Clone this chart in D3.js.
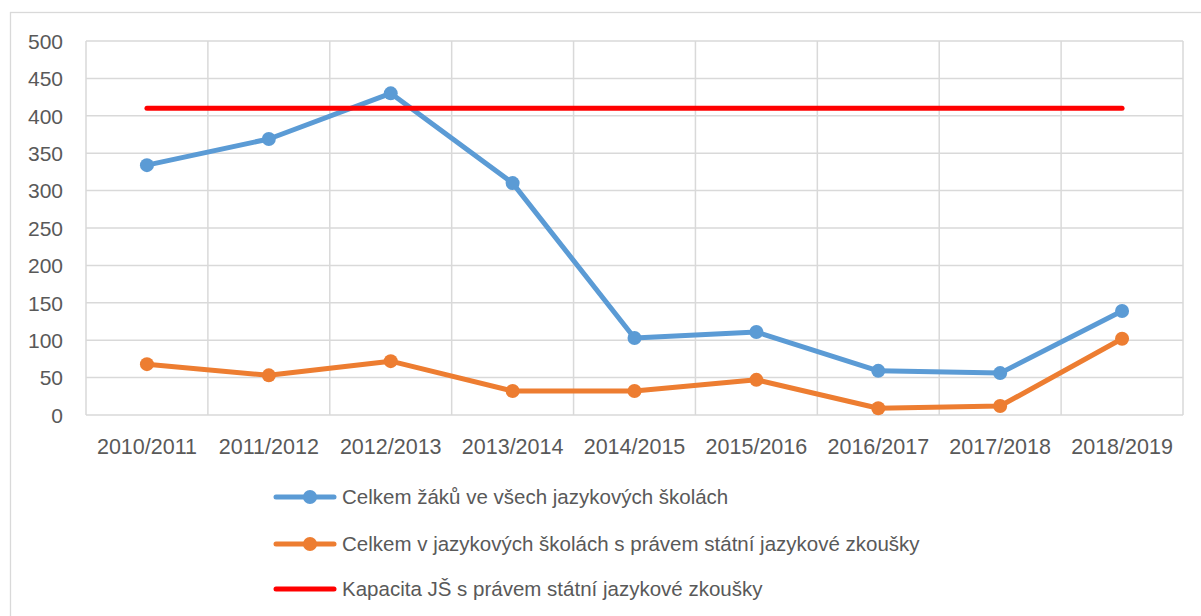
<!DOCTYPE html>
<html><head><meta charset="utf-8">
<script src="https://cdn.jsdelivr.net/npm/d3@7"></script>
<style>
html,body{margin:0;padding:0;background:#fff;}
svg text{font-family:"Liberation Sans",Arial,sans-serif;fill:#595959;}
</style></head><body>
<svg id="c" width="1201" height="616"></svg>
<script>
const categories = ["2010/2011","2011/2012","2012/2013","2013/2014","2014/2015","2015/2016","2016/2017","2017/2018","2018/2019"];
const totalStudents = [334,369,430,310,103,111,59,56,139];
const stateExamSchools = [68,53,72,32,32,47,9,12,102];
const capacity = [410,410,410,410,410,410,410,410,410];
const yTicks = [0,50,100,150,200,250,300,350,400,450,500];
const seriesNames = ["Celkem žáků ve všech jazykových školách","Celkem v jazykových školách s právem státní jazykové zkoušky","Kapacita JŠ s právem státní jazykové zkoušky"];
const colors = ["#5b9bd5","#ed7d31","#ff0000"];

const svg = d3.select("#c");
svg.append("rect").attr("x",10.5).attr("y",12.5).attr("width",1220).attr("height",640)
  .attr("fill","#fff").attr("stroke","#d9d9d9").attr("stroke-width",1.3);

const L=86,R=1183,T=41,B=415;
const x = d3.scaleBand().domain(categories).range([L,R]);
const y = d3.scaleLinear().domain([0,500]).range([B,T]);

const g = svg.append("g");
g.selectAll(".hg").data(yTicks).enter().append("line")
  .attr("x1",L).attr("x2",R).attr("y1",d=>y(d)).attr("y2",d=>y(d))
  .attr("stroke","#d9d9d9").attr("stroke-width",1.5);
const bounds = categories.map(c=>x(c)).concat([R]);
g.selectAll(".vg").data(bounds).enter().append("line")
  .attr("x1",d=>d).attr("x2",d=>d).attr("y1",T).attr("y2",B)
  .attr("stroke","#d9d9d9").attr("stroke-width",1.5);

const yAxis = d3.axisLeft(y).tickValues(yTicks).tickSize(0).tickPadding(0);
const ya = svg.append("g").attr("transform",`translate(63,0)`).call(yAxis);
ya.select(".domain").remove();
ya.selectAll("text").style("font-size","21px").style("font-family","'Liberation Sans',Arial,sans-serif")
  .attr("fill","#595959").attr("dy","0.35em");

const xAxis = d3.axisBottom(x).tickSize(0).tickPadding(0);
const xa = svg.append("g").attr("transform",`translate(0,446)`).call(xAxis);
xa.select(".domain").remove();
xa.selectAll("text").style("font-size","21.5px").style("font-family","'Liberation Sans',Arial,sans-serif")
  .attr("fill","#595959").attr("dy","0.35em");

const cx = c=>x(c)+x.bandwidth()/2;
const line = d3.line().x((d,i)=>cx(categories[i])).y(d=>y(d));

[totalStudents,stateExamSchools].forEach((s,k)=>{
  svg.append("path").datum(s).attr("d",line).attr("fill","none")
    .attr("stroke",colors[k]).attr("stroke-width",5).attr("stroke-linejoin","round").attr("stroke-linecap","round");
});
svg.append("path").datum(capacity).attr("d",line).attr("fill","none")
  .attr("stroke",colors[2]).attr("stroke-width",5).attr("stroke-linecap","round");
[totalStudents,stateExamSchools].forEach((s,k)=>{
  svg.selectAll(null).data(s).enter().append("circle")
    .attr("cx",(d,i)=>cx(categories[i])).attr("cy",d=>y(d)).attr("r",7).attr("fill",colors[k]);
});

const ly = [497,544,589];
seriesNames.forEach((n,k)=>{
  const gg = svg.append("g");
  gg.append("line").attr("x1",276).attr("x2",334).attr("y1",ly[k]).attr("y2",ly[k])
    .attr("stroke",colors[k]).attr("stroke-width",5).attr("stroke-linecap","round");
  if(k<2) gg.append("circle").attr("cx",310).attr("cy",ly[k]).attr("r",7).attr("fill",colors[k]);
  gg.append("text").attr("x",342).attr("y",ly[k]).attr("dy","0.35em").style("font-size","20.5px").text(n);
});
</script></body></html>
